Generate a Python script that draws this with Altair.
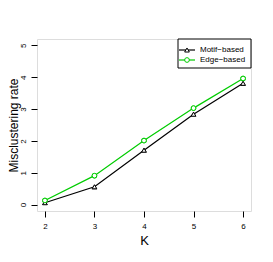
import altair as alt
import pandas as pd

K = [2, 3, 4, 5, 6]
motif = [0.06, 0.56, 1.71, 2.84, 3.81]
edge = [0.13, 0.91, 2.01, 3.03, 3.96]
series_names = ["Motif\u2212based", "Edge\u2212based"]
colors = ["#000000", "#00CC00"]
shapes = ["triangle-up", "circle"]

rows = []
for k, m, e in zip(K, motif, edge):
    rows.append({"K": k, "rate": m, "series": series_names[0]})
    rows.append({"K": k, "rate": e, "series": series_names[1]})
df = pd.DataFrame(rows)

FONT = "Liberation Sans"

xscale = alt.Scale(domain=[1.84, 6.16], nice=False, zero=False)
yscale = alt.Scale(domain=[-0.2, 5.2], nice=False, zero=False)
cscale = alt.Scale(domain=series_names, range=colors)
sscale = alt.Scale(domain=series_names, range=shapes)

xaxis = alt.Axis(values=K, title="K", domain=False, tickColor="#000", tickSize=6,
                 labelFontSize=8, labelPadding=5, labelColor="#000", grid=False,
                 titleFontSize=13, titleFontWeight="normal", titleColor="#000",
                 titleY=29, titleBaseline="middle", labelFont=FONT, titleFont=FONT)
yaxis = alt.Axis(values=[0, 1, 2, 3, 4, 5], title="Misclustering rate", domain=False,
                 tickColor="#000", tickSize=6, labelFontSize=8, labelPadding=4,
                 labelAngle=270, labelAlign="center", labelBaseline="bottom",
                 labelColor="#000", grid=False, titleFontSize=12,
                 titleFontWeight="normal", titleColor="#000",
                 titleX=-24, titleY=86, titleAlign="center", titleBaseline="middle",
                 titleAngle=270, labelFont=FONT, titleFont=FONT)

base = alt.Chart(df).encode(
    x=alt.X("K:Q", scale=xscale, axis=xaxis),
    y=alt.Y("rate:Q", scale=yscale, axis=yaxis),
    color=alt.Color("series:N", scale=cscale, legend=None),
    shape=alt.Shape("series:N", scale=sscale, legend=None),
    detail="series:N",
)

lines = base.mark_line(strokeWidth=1.2)
points = base.mark_point(filled=False, fill="white", size=22, strokeWidth=1, opacity=1)

one = pd.DataFrame({"a": [0]})
legbox = alt.Chart(one).mark_rect(
    fill="white", stroke="#000", strokeWidth=1
).encode(x=alt.value(141), x2=alt.value(214), y=alt.value(0), y2=alt.value(29))

leg_layers = [legbox]
for name, col, shp, yy in zip(series_names, colors, shapes, [11, 21]):
    leg_layers.append(alt.Chart(one).mark_rule(strokeWidth=1.2, color=col).encode(
        x=alt.value(142), x2=alt.value(158), y=alt.value(yy)))
    leg_layers.append(alt.Chart(one).mark_point(
        filled=False, fill="white", size=22, strokeWidth=1, opacity=1, color=col, shape=shp
    ).encode(x=alt.value(150), y=alt.value(yy)))
    leg_layers.append(alt.Chart(pd.DataFrame({"t": [name]})).mark_text(
        align="left", baseline="middle", fontSize=8, font=FONT, color="#000"
    ).encode(x=alt.value(163), y=alt.value(yy), text="t:N"))

chart = alt.layer(lines, points, *leg_layers).properties(
    width=214, height=172,
    autosize=alt.AutoSizeParams(type="none"),
    padding={"left": 29, "top": 31, "right": 14, "bottom": 40},
).configure_view(stroke="#000", strokeWidth=1).configure(background="white")

chart.save("out.html", embed_options={"renderer": "svg", "actions": False})
